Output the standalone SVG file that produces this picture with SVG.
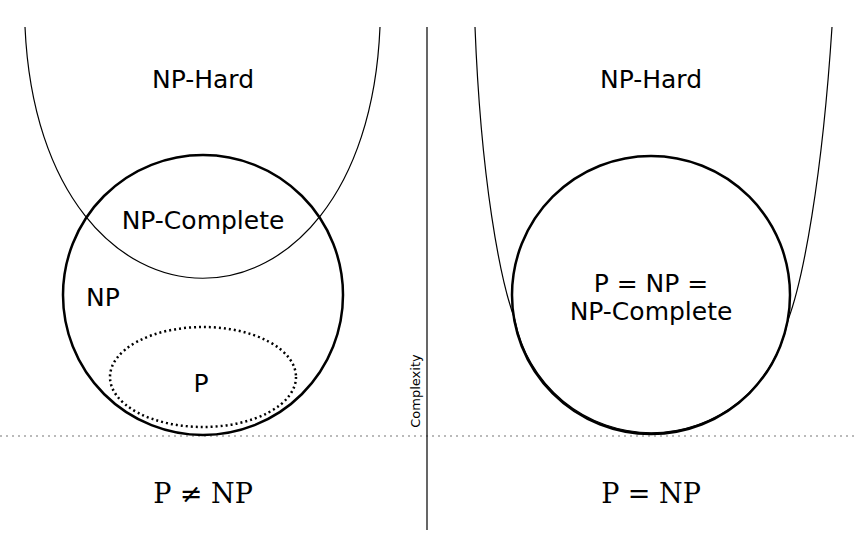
<svg xmlns="http://www.w3.org/2000/svg" width="856" height="540" viewBox="0 0 856 540">
<style>
.t{font-family:"DejaVu Sans",sans-serif;font-size:25px;text-anchor:middle;fill:#000}
.s{font-family:"DejaVu Serif","Liberation Serif",serif;font-size:27px;text-anchor:middle;fill:#000}
.c{fill:none;stroke:#000;stroke-width:2.5}
.u{fill:none;stroke:#000;stroke-width:1.2}
</style>
<defs><clipPath id="cl"><circle cx="203" cy="295" r="139"/></clipPath></defs>
<rect width="856" height="540" fill="#fff"/>
<g id="axes">
<line x1="0" y1="436" x2="856" y2="436" stroke="#777" stroke-width="1.2" stroke-dasharray="2,4"/>
<line x1="427" y1="27" x2="427" y2="530" stroke="#000" stroke-width="1.2"/>
<text x="420" y="391" font-family="DejaVu Sans,sans-serif" font-size="13" text-anchor="middle" transform="rotate(-90 420 391)">Complexity</text>
</g>
<g id="left-nphard"><path class="u" d="M25,27 C40,362 366,362 380,27"/><text class="t" x="203" y="88">NP-Hard</text></g>
<g id="left-np"><circle class="c" cx="203" cy="295" r="140"/><text class="t" x="103" y="306">NP</text><text class="t" x="203" y="229">NP-Complete</text></g>
<g id="left-p"><ellipse cx="203" cy="377" rx="93" ry="50" fill="none" stroke="#000" stroke-width="2.5" stroke-dasharray="2,3" clip-path="url(#cl)"/><text class="t" x="201" y="392">P</text></g>
<g id="right-nphard"><path class="u" d="M475,27 C481,180 500,280 515,320 A139,139 0 0 0 788,320 C803,280 822,180 832,27"/><text class="t" x="651" y="88">NP-Hard</text></g>
<g id="right-np"><circle class="c" cx="651" cy="295" r="139"/><text class="t" x="651" y="292">P = NP =</text><text class="t" x="651" y="320">NP-Complete</text></g>
<g id="labels"><text class="s" x="203" y="503">P ≠ NP</text><text class="s" x="651" y="503">P = NP</text></g>
</svg>
